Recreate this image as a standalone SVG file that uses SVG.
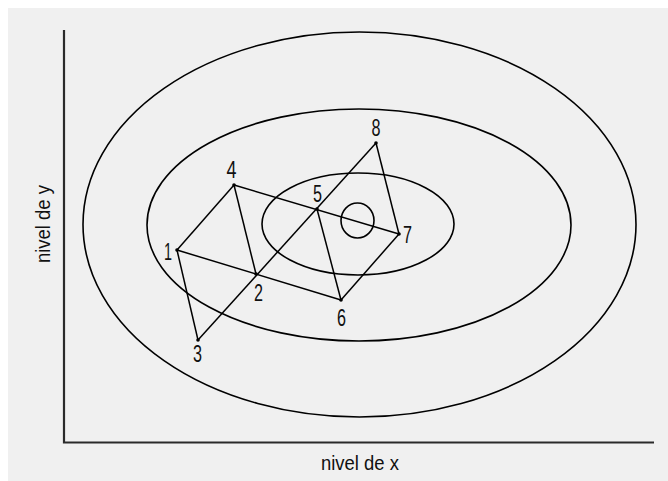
<svg xmlns="http://www.w3.org/2000/svg" width="668" height="481" viewBox="0 0 668 481">
<style>
.c{fill:none;stroke:#000;stroke-width:1.6}
.ax{fill:none;stroke:#2a2a2a;stroke-width:2.2}
.ln{fill:none;stroke:#000;stroke-width:1.5}
.n{font-family:"Liberation Sans",Arial,sans-serif;font-size:23px;fill:#111;text-anchor:middle}
.lb{font-family:"Liberation Sans",Arial,sans-serif;font-size:20px;fill:#111;text-anchor:middle}
</style>
<rect x="0" y="0" width="668" height="481" fill="#ffffff"/>
<rect x="8" y="8" width="660" height="473" fill="#f0f0f0"/>
<g id="contours">
<ellipse class="c" cx="359.5" cy="224.5" rx="276.5" ry="192.5"/>
<ellipse class="c" cx="359" cy="225" rx="212" ry="116"/>
<ellipse class="c" cx="358" cy="224" rx="96" ry="51"/>
<ellipse class="c" cx="357.5" cy="220.5" rx="16.5" ry="17.5"/>
</g>
<g id="axes">
<polyline class="ax" points="64,30 64,442.5 654,442.5"/>
<text class="lb" x="360" y="470" textLength="78" lengthAdjust="spacingAndGlyphs">nivel de x</text>
<text class="lb" transform="translate(50,224) rotate(-90)" x="0" y="0" textLength="78" lengthAdjust="spacingAndGlyphs">nivel de y</text>
</g>
<g id="connectors">
<line class="ln" x1="177" y1="250" x2="341" y2="300"/>
<line class="ln" x1="234" y1="185" x2="399" y2="234"/>
<line class="ln" x1="198" y1="340" x2="376" y2="143"/>
<line class="ln" x1="177" y1="250" x2="234" y2="185"/>
<line class="ln" x1="177" y1="250" x2="198" y2="340"/>
<line class="ln" x1="234" y1="185" x2="256" y2="274"/>
<line class="ln" x1="317" y1="209" x2="341" y2="300"/>
<line class="ln" x1="341" y1="300" x2="399" y2="234"/>
<line class="ln" x1="376" y1="143" x2="399" y2="234"/>
</g>
<g id="p1"><circle cx="177" cy="250" r="1.8"/><text class="n" x="168" y="260" textLength="8" lengthAdjust="spacingAndGlyphs">1</text></g>
<g id="p2"><circle cx="256" cy="274" r="1.8"/><text class="n" x="258.5" y="301" textLength="9" lengthAdjust="spacingAndGlyphs">2</text></g>
<g id="p3"><circle cx="198" cy="340" r="1.8"/><text class="n" x="197.5" y="362" textLength="9" lengthAdjust="spacingAndGlyphs">3</text></g>
<g id="p4"><circle cx="234" cy="185" r="1.8"/><text class="n" x="231.5" y="178" textLength="10" lengthAdjust="spacingAndGlyphs">4</text></g>
<g id="p5"><circle cx="317" cy="209" r="1.8"/><text class="n" x="317.5" y="202" textLength="9" lengthAdjust="spacingAndGlyphs">5</text></g>
<g id="p6"><circle cx="341" cy="300" r="1.8"/><text class="n" x="341.5" y="326" textLength="9" lengthAdjust="spacingAndGlyphs">6</text></g>
<g id="p7"><circle cx="399" cy="234" r="1.8"/><text class="n" x="407.5" y="243" textLength="9" lengthAdjust="spacingAndGlyphs">7</text></g>
<g id="p8"><circle cx="376" cy="143" r="1.8"/><text class="n" x="376" y="136" textLength="9" lengthAdjust="spacingAndGlyphs">8</text></g>
</svg>
